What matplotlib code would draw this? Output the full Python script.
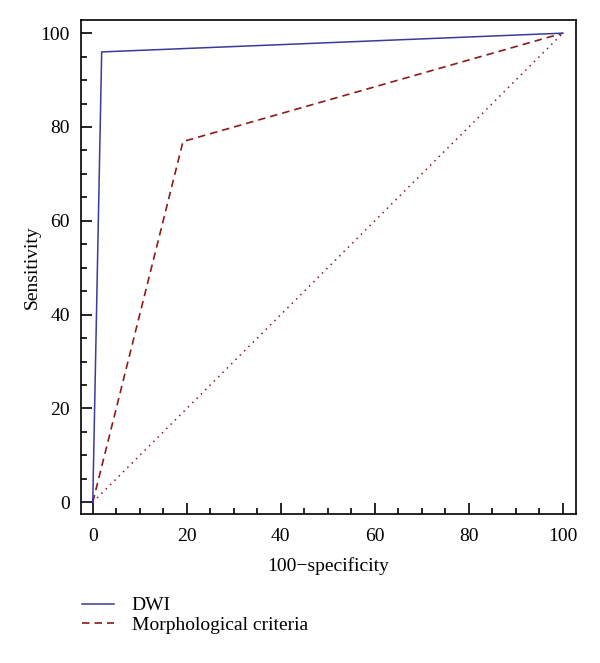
import matplotlib.pyplot as plt
from matplotlib.ticker import MultipleLocator

# ROC points
dwi_x = [0, 1.9, 100]
dwi_y = [0, 96, 100]
morph_x = [0, 19.2, 100]
morph_y = [0, 76.9, 100]
diag = [0, 100]

plt.rcParams['font.family'] = ['Liberation Serif', 'DejaVu Serif']

fig = plt.figure(figsize=(6, 6.63), dpi=100)
ax = fig.add_axes([0.135, 0.2247, 0.825, 0.7451])

ax.plot(diag, diag, color='#8b1a1a', linestyle=(0, (1, 3)), linewidth=1.1)
ax.plot(morph_x, morph_y, color='#8b1a1a', linestyle=(0, (4.5, 3)), linewidth=1.2,
        label='Morphological criteria')
ax.plot(dwi_x, dwi_y, color='#3b3b9b', linewidth=1.1, label='DWI')

ax.set_xlim(-2.5, 102.8)
ax.set_ylim(-2.5, 102.8)
ax.xaxis.set_major_locator(MultipleLocator(20))
ax.xaxis.set_minor_locator(MultipleLocator(5))
ax.yaxis.set_major_locator(MultipleLocator(20))
ax.yaxis.set_minor_locator(MultipleLocator(5))
ax.tick_params(which='both', direction='in', labelsize=14, width=1.2)
ax.tick_params(which='major', length=8)
ax.tick_params(axis='x', which='major', pad=10)
ax.tick_params(axis='y', which='major', pad=8)
ax.tick_params(which='minor', length=4)
for s in ax.spines.values():
    s.set_linewidth(1.2)

ax.set_xlabel('100\u2212specificity', fontsize=14, labelpad=9)
ax.set_ylabel('Sensitivity', fontsize=14, labelpad=0)

handles, labels = ax.get_legend_handles_labels()
fig.legend(handles[::-1], labels[::-1], loc='upper left', bbox_to_anchor=(0.137, 0.1),
           frameon=False, fontsize=14, handlelength=1.65, handletextpad=0.9,
           labelspacing=0.1, borderaxespad=0, borderpad=0)

fig.savefig('out.png', dpi=100)
